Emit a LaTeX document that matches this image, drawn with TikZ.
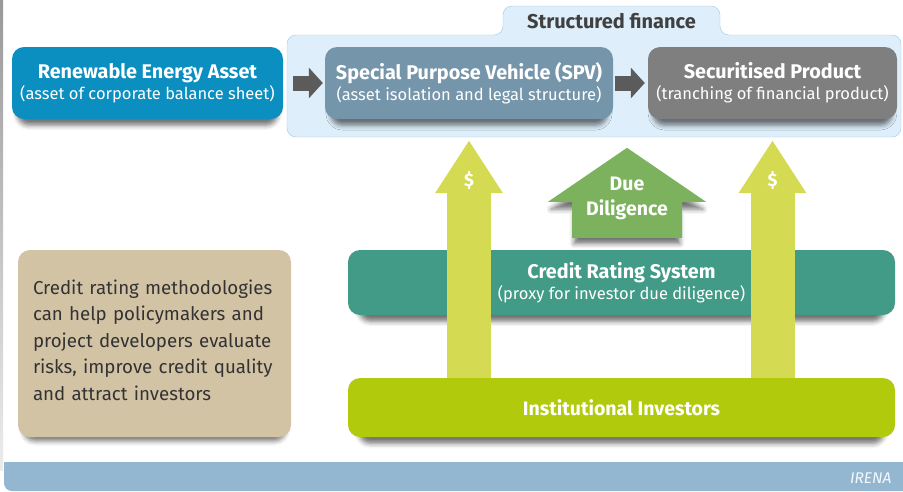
\documentclass[tikz,border=0pt]{standalone}
\usepackage{fontspec}
\setmainfont{Fira Sans}
\usetikzlibrary{arrows.meta,calc,shadows.blur}

\definecolor{reablue}{HTML}{0B8EC0}
\definecolor{spvblue}{HTML}{7595AA}
\definecolor{secgray}{HTML}{7F7F7F}
\definecolor{sffill}{HTML}{DEEFFB}
\definecolor{sfline}{HTML}{A3C7E0}
\definecolor{sftext}{HTML}{404040}
\definecolor{arrowgray}{HTML}{5B5B5B}
\definecolor{dollaryellow}{HTML}{D4DB53}
\definecolor{ddgreen}{HTML}{7CB25D}
\definecolor{crsteal}{HTML}{429B86}
\definecolor{invlime}{HTML}{B1CA0C}
\definecolor{notebeige}{HTML}{D3C3A5}
\definecolor{notetext}{HTML}{333333}
\definecolor{barblue}{HTML}{93B6D1}

\tikzset{
  boxshadow/.style={blur shadow={shadow xshift=0pt, shadow yshift=-8pt,
      shadow blur radius=5pt, shadow opacity=55, shadow scale=0.96}},
  box/.style={rounded corners=12pt, minimum height=72pt, text=white,
      align=center, inner sep=0pt, boxshadow,
      font=\fontsize{16.5}{21}\selectfont},
  flowarrow/.style={draw=arrowgray, line width=15pt,
      -{Triangle[length=14pt,width=30pt]}},
  dollararrow/.style={draw=dollaryellow, line width=44pt,
      -{Triangle[length=53pt,width=64pt]}},
  dollar/.style={text=white, font=\bfseries\fontsize{18}{18}\selectfont},
}

\begin{document}
\begin{tikzpicture}[x=1pt,y=-1pt]
  \useasboundingbox (0,0) rectangle (903,491);

  % page edge and footer
  \shade[top color=gray!80, bottom color=gray!15] (0,0) rectangle (3,470);
  \fill[barblue] (903,462) -- (903,491) [rounded corners=8pt] -- (4,491) [sharp corners] -- (4,462) -- cycle;
  \node[text=white!92!barblue, anchor=east, font=\itshape\fontsize{15.5}{15.5}\selectfont] (irena) at (895,478) {IRENA};

  % structured finance frame
  \draw[sfline, fill=sffill, rounded corners=9pt] (287,137) -- (287,35) -- (503,35) -- (503,6)
      -- (720,6) -- (720,35) -- (901,35) -- (901,137) -- cycle;
  \node[text=sftext, font=\bfseries\fontsize{20}{20}\selectfont] (sftitle) at (611.5,21) {Structured finance};

  \node[box, fill=reablue, minimum width=271pt] (rea) at (147.5,83)
      {{\bfseries\fontsize{19.8}{21}\selectfont Renewable Energy Asset}\\(asset of corporate balance sheet)};
  \node[box, fill=spvblue, minimum width=288pt] (spv) at (469,83)
      {{\bfseries\fontsize{19.8}{21}\selectfont Special Purpose Vehicle (SPV)}\\(asset isolation and legal structure)};
  \node[box, fill=secgray, minimum width=249pt] (sec) at (772.5,83)
      {{\bfseries\fontsize{19.8}{21}\selectfont Securitised Product}\\(tranching of financial product)};

  \draw[flowarrow, shorten <=10pt, shorten >=2pt] (rea) -- (spv);
  \draw[flowarrow, shorten <=2pt, shorten >=3pt] (spv) -- (sec);

  % lower part
  \node[box, fill=crsteal, minimum width=547pt, minimum height=65pt] (crs) at (621.5,282.5)
      {{\bfseries\fontsize{19.8}{21}\selectfont Credit Rating System}\\(proxy for investor due diligence)};
  \node[box, fill=invlime, minimum width=547pt, minimum height=59pt] (inv) at (621.5,407.5)
      {{\bfseries\fontsize{19.5}{21}\selectfont Institutional Investors}};

  \draw[dollararrow, shorten >=21pt] (spv.south |- inv.north) -- (spv.south);
  \draw[dollararrow, shorten >=21pt] (sec.south |- inv.north) -- (sec.south);
  \node[dollar] (d1) at ($(spv.south)+(0,61)$) {\$};
  \node[dollar] (d2) at ($(sec.south)+(0,61)$) {\$};

  \coordinate (ddbase) at ($(crs.north)+(5.5,-12)$);
  \fill[ddgreen, boxshadow] (ddbase) ++(-55,0) -- ++(0,-36) -- ++(-24,0) -- ++(79,-54)
      -- ++(79,54) -- ++(-24,0) -- ++(0,36) -- cycle;
  \node[text=white, align=center, font=\bfseries\fontsize{19.5}{25}\selectfont] (dd) at ($(ddbase)+(0,-39)$)
      {Due\\Diligence};

  \node[rounded corners=12pt, fill=notebeige, boxshadow, minimum width=273pt, minimum height=187pt,
      text width=243pt, align=left, text=notetext, font=\fontsize{18.7}{26.5}\selectfont] (note) at (154.5,343.5)
      {Credit rating methodologies\\can help policymakers and\\project developers evaluate\\risks, improve credit quality\\and attract investors\par\vspace*{7pt}};
\end{tikzpicture}
\end{document}
